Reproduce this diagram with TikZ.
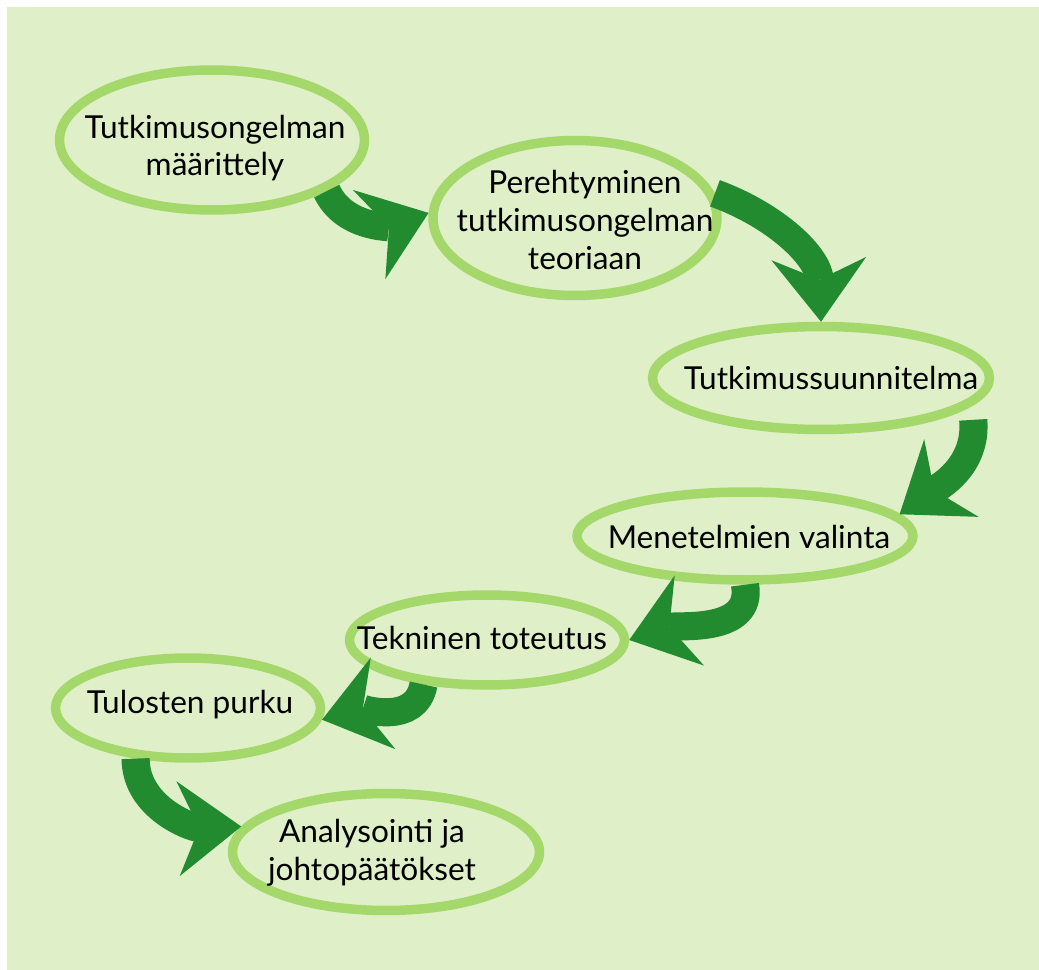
\documentclass[tikz,border=0pt]{standalone}
\usepackage{fontspec}
\setmainfont{Lato}
\usetikzlibrary{shapes.geometric,arrows.meta}
\definecolor{bgleaf}{RGB}{223,240,201}
\definecolor{ringgreen}{RGB}{165,216,106}
\definecolor{arrowgreen}{RGB}{34,139,47}

\begin{document}
\begin{tikzpicture}[x=0.02cm, y=0.02cm,
				blob/.style={draw=ringgreen, ellipse,%
                line width=5.4pt, inner sep=0pt, anchor=center},
                txt/.style={align=center, anchor=center, text=black,
                font=\fontsize{18}{21.5}\selectfont},
    			% Define style for the brush arrows
   				brush/.style={draw=arrowgreen, line width=16pt,
                -{Stealth[length=36pt,width=54pt,inset=12pt,line width=0pt]}}
    			]
%% Page and background
\useasboundingbox (0,0) rectangle (1039,-970);
\fill [white] (0,0) rectangle (1039,-970);
\fill [bgleaf] (7,-7) rectangle (1039,-970);

%% Rings
\node [blob, minimum width=6.1cm, minimum height=2.8cm] (defn) at (212,-140) {};
\node [blob, minimum width=5.68cm, minimum height=3.1cm] (theory) at (575,-218) {};
\node [blob, minimum width=6.74cm, minimum height=2.06cm] (plan) at (821,-378) {};
\node [blob, minimum width=6.72cm, minimum height=1.76cm] (methods) at (745,-536) {};
\node [blob, minimum width=5.5cm, minimum height=1.8cm] (impl) at (487,-640) {};
\node [blob, minimum width=5.3cm, minimum height=2.0cm] (results) at (188,-708) {};
\node [blob, minimum width=6.14cm, minimum height=2.34cm] (analysis) at (386,-852) {};

%% Arrows
\draw [brush] (defn.-24) to[out=-65, in=200] (theory.178);
\draw [brush] (theory.10) to[out=-20, in=92] (plan.north);
\draw [brush] ([yshift=-0.3cm]plan.-10) to[out=-85, in=35] (methods.8);
\draw [brush] (methods.south) to[out=-80, in=18] (impl.east);
\draw [brush] (impl.-145) to[out=-100, in=15] (results.-5);
\draw [brush] (results.-136) to[out=-90, in=182] (analysis.170);

%% Texts
\node [txt] (defn-txt) at (215,-148) {Tutkimusongelman\\määrittely};
\node [txt] (theory-txt) at (585,-220) {Perehtyminen\\tutkimusongelman\\teoriaan};
\node [txt] (plan-txt) at (831,-378) {Tutkimussuunnitelma};
\node [txt] (methods-txt) at (749,-537) {Menetelmien valinta};
\node [txt] (impl-txt) at (482,-638) {Tekninen toteutus};
\node [txt] (results-txt) at (190,-705) {Tulosten purku};
\node [txt] (analysis-txt) at (372,-853) {Analysointi ja\\johtopäätökset};

\end{tikzpicture}
\end{document}
